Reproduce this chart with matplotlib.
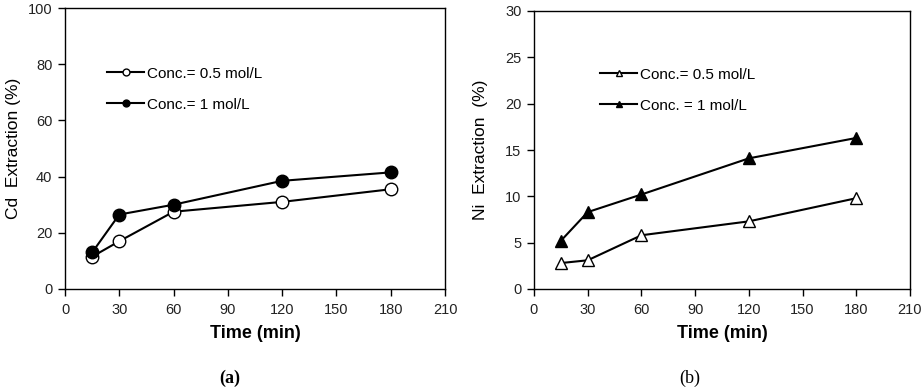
import matplotlib.pyplot as plt
import numpy as np

plt.rcParams['font.family'] = ['Liberation Sans', 'DejaVu Sans']

# data
time_min = [15, 30, 60, 120, 180]
cd_05 = [11.5, 17.0, 27.5, 31.0, 35.5]
cd_1 = [13.0, 26.5, 30.0, 38.5, 41.5]
ni_05 = [2.8, 3.1, 5.8, 7.3, 9.8]
ni_1 = [5.2, 8.3, 10.2, 14.1, 16.3]

xticks = np.arange(0, 211, 30)

fig = plt.figure(figsize=(9.24, 3.9), dpi=100)
ax1 = fig.add_axes([65 / 924, 1 - 289 / 390, 380 / 924, 281 / 390])
ax2 = fig.add_axes([534 / 924, 1 - 289 / 390, 376 / 924, 278 / 390])


def style_ax(ax, ymax, ystep, ylabel, ypad):
    ax.set_xlim(0, 210)
    ax.set_ylim(0, ymax)
    ax.set_xticks(xticks)
    ax.set_yticks(np.arange(0, ymax + 0.1, ystep))
    ax.tick_params(direction='out', length=5, width=1, labelsize=10.5, pad=5,
                   labelcolor='#222222')
    ax.tick_params(axis='y', pad=4)
    for s in ax.spines.values():
        s.set_linewidth(1.0)
    ax.set_xlabel('Time (min)', fontsize=13, fontweight='bold', labelpad=6)
    ax.set_ylabel(ylabel, fontsize=12.5, labelpad=ypad)


ax1.plot(time_min, cd_05, '-o', color='black', mfc='white', mec='black', ms=9, lw=1.5,
         label='Conc.= 0.5 mol/L')
ax1.plot(time_min, cd_1, '-o', color='black', mfc='black', ms=9, lw=1.5,
         label='Conc.= 1 mol/L')
style_ax(ax1, 100, 20, 'Cd  Extraction (%)', 5)
ax1.legend(loc='upper left', bbox_to_anchor=(0.075, 0.84), frameon=False, fontsize=11,
           handlelength=2.4, handletextpad=0.2, labelspacing=1.1, markerscale=0.55)

ax2.plot(time_min, ni_05, '-^', color='black', mfc='white', mec='black', ms=9, lw=1.5,
         label='Conc.= 0.5 mol/L')
ax2.plot(time_min, ni_1, '-^', color='black', mfc='black', ms=9, lw=1.5,
         label='Conc. = 1 mol/L')
style_ax(ax2, 30, 5, 'Ni  Extraction  (%)', 12)
ax2.legend(loc='upper left', bbox_to_anchor=(0.14, 0.845), frameon=False, fontsize=11,
           handlelength=2.4, handletextpad=0.2, labelspacing=1.1, markerscale=0.55)

fig.text(230 / 924, 1 - 378 / 390, '(a)', family='Liberation Serif', fontsize=13,
         fontweight='bold', ha='center', va='center')
fig.text(690 / 924, 1 - 378 / 390, '(b)', family='Liberation Serif', fontsize=13,
         ha='center', va='center')

fig.savefig('out.png', dpi=100)
